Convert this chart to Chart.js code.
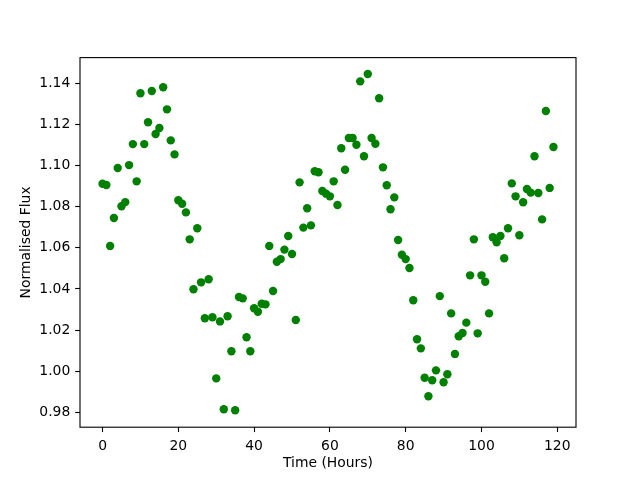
<!DOCTYPE html>
<html>
<head>
<meta charset="utf-8">
<script src="https://cdn.jsdelivr.net/npm/chart.js@4"></script>
<style>
html, body { margin: 0; padding: 0; background: #ffffff; }
#wrap { width: 640px; height: 480px; }
</style>
</head>
<body>
<div id="wrap"><canvas id="c" width="640" height="480"></canvas></div>
<script>
// Time in hours
const hours = [];
for (let h = 0; h < 120; h++) hours.push(h);

// Normalised flux values
const flux = [
  1.0911, 1.0905, 1.0609, 1.0745, 1.0988, 1.0802, 1.0822, 1.1002, 1.1104, 1.0923,
  1.1351, 1.1104, 1.1210, 1.1362, 1.1153, 1.1182, 1.1380, 1.1273, 1.1122, 1.1054,
  1.0831, 1.0814, 1.0772, 1.0641, 1.0398, 1.0695, 1.0432, 1.0257, 1.0447, 1.0262,
  0.9965, 1.0242, 0.9815, 1.0267, 1.0097, 0.9810, 1.0361, 1.0354, 1.0165, 1.0097,
  1.0306, 1.0289, 1.0328, 1.0325, 1.0609, 1.0390, 1.0532, 1.0545, 1.0591, 1.0657,
  1.0570, 1.0249, 1.0918, 1.0698, 1.0792, 1.0709, 1.0972, 1.0967, 1.0876, 1.0863,
  1.0850, 1.0923, 1.0808, 1.1084, 1.0979, 1.1134, 1.1134, 1.1101, 1.1409, 1.1045,
  1.1445, 1.1134, 1.1106, 1.1327, 1.0991, 1.0904, 1.0787, 1.0845, 1.0638, 1.0566,
  1.0545, 1.0502, 1.0345, 1.0155, 1.0111, 0.9968, 0.9878, 0.9956, 1.0004, 1.0365,
  0.9946, 0.9985, 1.0281, 1.0084, 1.0170, 1.0186, 1.0236, 1.0466, 1.0641, 1.0184,
  1.0466, 1.0435, 1.0281, 1.0651, 1.0627, 1.0657, 1.0549, 1.0695, 1.0913, 1.0850,
  1.0661, 1.0821, 1.0886, 1.0868, 1.1045, 1.0866, 1.0738, 1.1265, 1.0891, 1.1090
];

const xTicks = [0, 20, 40, 60, 80, 100, 120];
const yTicks = [0.98, 1.00, 1.02, 1.04, 1.06, 1.08, 1.10, 1.12, 1.14];

const xTitle = 'Time (Hours)';
const yTitle = 'Normalised Flux';

const points = hours.map((h, i) => ({ x: h, y: flux[i] }));

const FONT = { family: '"DejaVu Sans", sans-serif', size: 13.9 };
const SPINE = 1.11;

const framePlugin = {
  id: 'frame',
  afterDatasetsDraw(chart) {
    const { ctx, chartArea: a } = chart;
    ctx.save();
    ctx.strokeStyle = '#000000';
    ctx.lineWidth = SPINE;
    ctx.strokeRect(a.left, a.top, a.right - a.left, a.bottom - a.top);
    ctx.restore();
  }
};

new Chart(document.getElementById('c'), {
  type: 'scatter',
  data: {
    datasets: [{
      data: points,
      backgroundColor: '#008000',
      borderColor: '#008000',
      borderWidth: 0,
      pointRadius: 4.2,
      pointHoverRadius: 4.2
    }]
  },
  options: {
    responsive: false,
    animation: false,
    events: [],
    layout: { padding: { left: 0, right: 64, top: 57.6, bottom: 0 } },
    plugins: { legend: { display: false }, tooltip: { enabled: false } },
    scales: {
      x: {
        type: 'linear',
        min: -5.95,
        max: 124.95,
        afterBuildTicks: (axis) => { axis.ticks = xTicks.map(v => ({ value: v })); },
        afterFit: (scale) => { scale.height = 52.8; },
        border: { display: false },
        grid: {
          display: true, drawOnChartArea: false, drawTicks: true,
          tickLength: 4.86, tickWidth: SPINE, tickColor: '#000000'
        },
        ticks: {
          color: '#000000', font: FONT, padding: 6, maxRotation: 0,
          callback: (v) => String(v)
        },
        title: {
          display: true, text: xTitle, color: '#000000', font: FONT,
          padding: { top: 0, bottom: 8.5 }
        }
      },
      y: {
        type: 'linear',
        min: 0.97277,
        max: 1.15245,
        afterBuildTicks: (axis) => { axis.ticks = yTicks.map(v => ({ value: v })); },
        afterFit: (scale) => { scale.width = 80; },
        border: { display: false },
        grid: {
          display: true, drawOnChartArea: false, drawTicks: true,
          tickLength: 4.86, tickWidth: SPINE, tickColor: '#000000'
        },
        ticks: {
          color: '#000000', font: FONT, padding: 4.86,
          callback: (v) => Number(v).toFixed(2)
        },
        title: {
          display: true, text: yTitle, color: '#000000', font: FONT,
          padding: { top: 18.5, bottom: 0 }
        }
      }
    }
  },
  plugins: [framePlugin]
});
</script>
</body>
</html>
